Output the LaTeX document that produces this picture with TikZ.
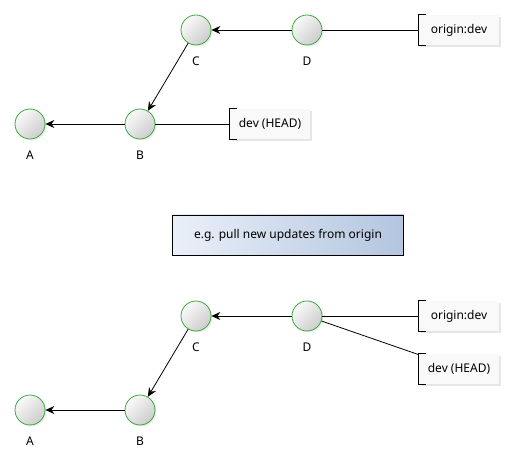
\documentclass[tikz,border=0pt]{standalone}
\usepackage{fontspec}
\setmainfont{Noto Sans}
\usetikzlibrary{arrows.meta,shadows}

\definecolor{commitrim}{HTML}{3BAA3B}
\definecolor{notelight}{HTML}{EAF0F8}
\definecolor{notedark}{HTML}{B3C5DF}
\newcommand{\refbracket}[1]{%
  \draw ([xshift=7pt]#1.north west) -- (#1.north west) -- (#1.south west) -- ([xshift=7pt]#1.south west);}

\begin{document}
\begin{tikzpicture}[x=1pt, y=-1pt, line width=0.8pt,
  font=\fontsize{12}{14}\selectfont,
  commit/.style={circle, draw=commitrim, minimum size=30pt, inner sep=0pt,
    top color=gray!4, bottom color=gray!40, shading angle=45,
    drop shadow={shadow xshift=1.5pt, shadow yshift=-1.5pt, opacity=0.15},
    label={[label distance=8pt]below:#1}},
  refbox/.style={rectangle, fill=gray!5, minimum width=80pt, minimum height=30pt,
    inner sep=0pt, drop shadow={shadow xshift=2pt, shadow yshift=-2pt, opacity=0.2}},
  parent/.style={-{Stealth[length=9pt, width=8pt, inset=3pt]}}]
  \useasboundingbox (0,0) rectangle (514,465);

  % two states of the branch, before and after
  \foreach \r/\dy in {u/0, l/286} {
    \node[commit=A] (A\r) at (30,124+\dy) {};
    \node[commit=B] (B\r) at (140,124+\dy) {};
    \node[commit=C] (C\r) at (196,30+\dy) {};
    \node[commit=D] (D\r) at (307,30+\dy) {};
    \draw[parent] (D\r) -- (C\r);
    \draw[parent] (C\r) -- (B\r);
    \draw[parent] (B\r) -- (A\r);
  }

  % refs before
  \node[refbox] (ou) at (459,30) {origin:dev};
  \node[refbox] (hu) at (270,124) {dev (HEAD)};
  \refbracket{ou}
  \refbracket{hu}
  \draw (Du) -- (ou);
  \draw (Bu) -- (hu);

  \node[draw, line width=0.8pt, left color=notelight, right color=notedark,
    minimum width=231pt, minimum height=40pt] (note) at (288,235)
    {e.g. pull new updates from origin};

  % refs after
  \node[refbox] (ol) at (459,316) {origin:dev};
  \node[refbox] (hl) at (459,369) {dev (HEAD)};
  \refbracket{ol}
  \refbracket{hl}
  \draw (Dl) -- (ol);
  \draw (Dl) -- ([yshift=-1pt]hl.north west);
\end{tikzpicture}
\end{document}
